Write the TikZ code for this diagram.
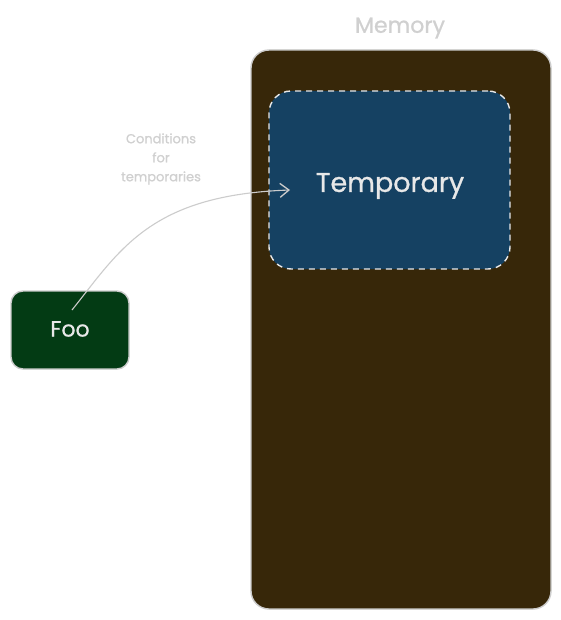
\documentclass[tikz,border=0pt]{standalone}
\usepackage{fontspec}
\setmainfont{Poppins}[FakeBold=0.8]
\usetikzlibrary{arrows.meta}
\definecolor{membg}{HTML}{372709}
\definecolor{tempbg}{HTML}{154162}
\definecolor{foobg}{HTML}{033B14}
\definecolor{edgegrey}{HTML}{CCCCCC}
\definecolor{txtgrey}{HTML}{D0D0D0}
\definecolor{txtlight}{HTML}{E8E8E8}
\tikzset{
  membox/.style={draw=edgegrey, line width=1.4pt, fill=membg, rounded corners=18pt, minimum width=300pt, minimum height=559pt, inner sep=0pt},
  tempbox/.style={draw=txtlight, line width=1.4pt, dash pattern=on 6pt off 5pt, fill=tempbg, rounded corners=22pt, minimum width=241pt, minimum height=178pt, inner sep=0pt},
  foobox/.style={draw=edgegrey, line width=1.4pt, fill=foobg, rounded corners=12pt, minimum width=118pt, minimum height=78pt, inner sep=0pt},
  boxtext/.style={text=txtlight, inner sep=0pt},
  conn/.style={draw=edgegrey, line width=1.1pt, -{Straight Barb[length=9pt,width=14pt,line width=1.3pt]}}
}
\begin{document}
\begin{tikzpicture}[x=1pt,y=-1pt]
\useasboundingbox (0,0) rectangle (560,620);
\fill[white] (0,0) rectangle (560,620);
\node (mem) [membox] at (401,329.5) {};
\node (memlabel) [text=txtgrey, font=\fontsize{22}{24}\selectfont] at (400,28) {Memory};
\node (temp) [tempbox] at (389.5,180) {};
\node (templabel) [boxtext, font=\fontsize{27}{30}\selectfont] at (390,186) {Temporary};
\node (foo) [foobox] at (70,330) {};
\node (foolabel) [boxtext, font=\fontsize{22}{24}\selectfont] at (70,329) {Foo};
\node (cond) [text=txtgrey, align=center, font=\fontsize{13}{19}\selectfont] at (161,159) {Conditions\\for\\temporaries};
\coordinate (start) at (72,310);
\coordinate (end) at (290,190);
\draw[conn] (start) .. controls (120,250) and (150,195) .. (end);
\end{tikzpicture}
\end{document}
